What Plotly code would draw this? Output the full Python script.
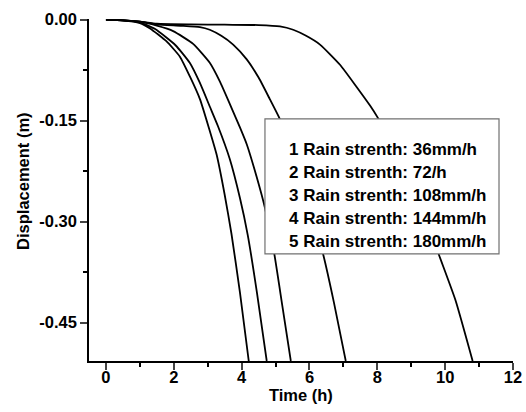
import plotly.graph_objects as go

# Curve data (time in h, displacement in m)
t1 = [0, 0.5, 1.0, 1.5, 2.5, 3.5, 4.5, 5.13, 5.52, 5.9, 6.31, 6.90, 7.39, 7.79, 8.03, 8.5, 9.0, 9.4, 9.80, 10.30, 10.81]
d1 = [0, -0.001, -0.003, -0.006, -0.007, -0.0075, -0.008, -0.010, -0.015, -0.024, -0.037, -0.067, -0.100, -0.128, -0.147, -0.188, -0.24, -0.29, -0.347, -0.416, -0.507]

t2 = [0, 0.5, 1.0, 1.5, 2.2, 2.77, 3.06, 3.4, 3.75, 4.15, 4.5, 4.83, 5.13, 5.5, 5.82, 6.12, 6.41, 6.72, 7.07]
d2 = [0, -0.001, -0.003, -0.007, -0.009, -0.011, -0.015, -0.024, -0.037, -0.059, -0.086, -0.118, -0.148, -0.195, -0.245, -0.297, -0.350, -0.420, -0.507]

t3 = [0, 0.5, 1.0, 1.5, 1.98, 2.57, 3.06, 3.36, 3.65, 3.95, 4.15, 4.44, 4.69, 4.96, 5.2, 5.45]
d3 = [0, -0.001, -0.003, -0.009, -0.017, -0.036, -0.064, -0.092, -0.125, -0.160, -0.185, -0.233, -0.280, -0.347, -0.425, -0.507]

t4 = [0, 0.5, 1.0, 1.45, 2.05, 2.47, 2.77, 3.06, 3.3, 3.65, 3.95, 4.18, 4.45, 4.74]
d4 = [0, -0.001, -0.004, -0.014, -0.038, -0.064, -0.094, -0.129, -0.158, -0.207, -0.265, -0.320, -0.405, -0.507]

t5 = [0, 0.5, 1.0, 1.3, 1.78, 2.18, 2.47, 2.77, 3.03, 3.26, 3.5, 3.7, 3.95, 4.21]
d5 = [0, -0.001, -0.005, -0.013, -0.032, -0.055, -0.084, -0.118, -0.160, -0.200, -0.260, -0.318, -0.405, -0.507]

legend_labels = [
    "1 Rain strenth: 36mm/h",
    "2 Rain strenth: 72/h",
    "3 Rain strenth: 108mm/h",
    "4 Rain strenth: 144mm/h",
    "5 Rain strenth: 180mm/h",
]

x_ticks = [0, 2, 4, 6, 8, 10, 12]
y_ticks = [0.0, -0.15, -0.30, -0.45]
y_tick_text = ["0.00", "-0.15", "-0.30", "-0.45"]

FONT = "Arial, Liberation Sans, sans-serif"

fig = go.Figure()
for tx, dy in [(t1, d1), (t2, d2), (t3, d3), (t4, d4), (t5, d5)]:
    fig.add_trace(go.Scatter(x=tx, y=dy, mode="lines",
                             line=dict(color="black", width=1.8, shape="spline", smoothing=0.5),
                             showlegend=False))

# legend box
fig.add_shape(type="rect", xref="paper", yref="paper",
              x0=0.415, x1=0.967, y0=0.313, y1=0.708,
              line=dict(color="#707070", width=1.2), fillcolor="white", layer="above")
for i, lab in enumerate(legend_labels):
    fig.add_annotation(xref="paper", yref="paper", x=0.467, y=0.619 - i * 0.0672,
                       xanchor="left", yanchor="middle", text=lab, showarrow=False,
                       font=dict(family=FONT, size=17, color="black", weight="bold"))

# axis titles
fig.add_annotation(xref="paper", yref="paper", x=0.5, y=-0.099, xanchor="center", yanchor="middle",
                   text="Time (h)", showarrow=False,
                   font=dict(family=FONT, size=16.5, color="black", weight="bold"))
fig.add_annotation(xref="paper", yref="paper", x=-0.156, y=0.526, xanchor="center", yanchor="middle",
                   text="Displacement (m)", textangle=-90, showarrow=False,
                   font=dict(family=FONT, size=16.5, color="black", weight="bold"))

fig.update_layout(
    width=526, height=412,
    margin=dict(l=89, r=13, t=19, b=51),
    paper_bgcolor="white", plot_bgcolor="white",
    font=dict(family=FONT, color="black"),
)
fig.update_xaxes(range=[-0.5, 12], tickvals=x_ticks, ticks="outside", ticklen=7, tickwidth=1.5,
                 showline=True, linecolor="black", linewidth=1.5, showgrid=False, zeroline=False,
                 automargin=False, ticklabelstandoff=-7,
                 tickfont=dict(family=FONT, size=16.5, weight="bold"),
                 minor=dict(dtick=1, tick0=0, ticks="outside", ticklen=4, tickwidth=1.5, tickcolor="black"))
fig.update_yaxes(range=[-0.507, 0.001], tickvals=y_ticks, ticktext=y_tick_text, ticks="outside",
                 ticklen=7, tickwidth=1.5, automargin=False,
                 showline=True, linecolor="black", linewidth=1.5, showgrid=False, zeroline=False,
                 tickfont=dict(family=FONT, size=16.5, weight="bold"),
                 minor=dict(dtick=0.075, tick0=0, ticks="outside", ticklen=4, tickwidth=1.5, tickcolor="black"))

fig.write_html("out.html")
